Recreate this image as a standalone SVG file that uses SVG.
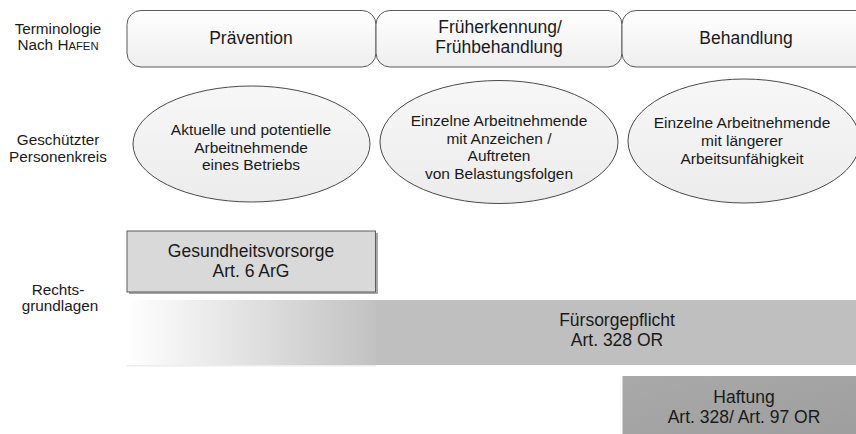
<svg xmlns="http://www.w3.org/2000/svg" width="856" height="434" viewBox="0 0 856 434">
<style>
text{font-family:"Liberation Sans",Arial,sans-serif;fill:#1a1a1a;text-anchor:middle}
.lbl{font-size:15.3px}
.big{font-size:17.5px}
.mid{font-size:15.5px}
.phase{fill:url(#gTop);stroke:#5a5a5a;stroke-width:1}
.ell{fill:url(#gEll);stroke:#4a4a4a;stroke-width:1}
</style>
<defs>
<linearGradient id="gTop" x1="0" y1="0" x2="0" y2="1">
<stop offset="0" stop-color="#ffffff"/>
<stop offset="1" stop-color="#eeeeee"/>
</linearGradient>
<linearGradient id="gEll" x1="0" y1="0" x2="0" y2="1">
<stop offset="0" stop-color="#f7f7f7"/>
<stop offset="1" stop-color="#ececec"/>
</linearGradient>
<linearGradient id="gFade" x1="0" y1="0" x2="1" y2="0">
<stop offset="0" stop-color="#ffffff"/>
<stop offset="1" stop-color="#c2c2c2"/>
</linearGradient>
<linearGradient id="gHaft" x1="0" y1="0" x2="1" y2="1">
<stop offset="0" stop-color="#a9a9a9"/>
<stop offset="1" stop-color="#9e9e9e"/>
</linearGradient>
</defs>
<g id="row-labels">
<text class="lbl" x="58" y="33.5">Terminologie</text>
<text class="lbl" x="58" y="50">Nach H<tspan font-size="11.3px">AFEN</tspan></text>
<text class="lbl" x="58" y="145">Geschützter</text>
<text class="lbl" x="58" y="161.5">Personenkreis</text>
<text class="lbl" x="58" y="294.5">Rechts-</text>
<text class="lbl" x="60" y="311">grundlagen</text>
</g>
<g id="praevention">
<rect class="phase" x="127" y="10.5" width="249" height="56.5" rx="14"/>
<text class="big" x="251" y="44">Prävention</text>
</g>
<g id="frueherkennung">
<rect class="phase" x="376" y="10.5" width="246" height="56.5" rx="14"/>
<text class="big" x="500" y="33">Früherkennung/</text>
<text class="big" x="499" y="53">Frühbehandlung</text>
</g>
<g id="behandlung">
<rect class="phase" x="622" y="10.5" width="250" height="56.5" rx="14"/>
<text class="big" x="746" y="44">Behandlung</text>
</g>
<g id="personen-praevention">
<ellipse class="ell" cx="251.5" cy="144" rx="118.5" ry="58"/>
<text class="mid" x="251" y="135">Aktuelle und potentielle</text>
<text class="mid" x="251" y="152.5">Arbeitnehmende</text>
<text class="mid" x="251" y="170">eines Betriebs</text>
</g>
<g id="personen-frueherkennung">
<ellipse class="ell" cx="499" cy="142" rx="119" ry="61.5"/>
<text class="mid" x="499" y="126">Einzelne Arbeitnehmende</text>
<text class="mid" x="499" y="144">mit Anzeichen /</text>
<text class="mid" x="499" y="161">Auftreten</text>
<text class="mid" x="499" y="179">von Belastungsfolgen</text>
</g>
<g id="personen-behandlung">
<ellipse class="ell" cx="744" cy="141" rx="116" ry="62"/>
<text class="mid" x="742" y="128">Einzelne Arbeitnehmende</text>
<text class="mid" x="742" y="146">mit längerer</text>
<text class="mid" x="742" y="163.5">Arbeitsunfähigkeit</text>
</g>
<g id="gesundheitsvorsorge">
<rect x="129" y="233" width="249" height="61" fill="#a8a8a8"/>
<rect x="127" y="231" width="248.5" height="61" fill="#d9d9d9" stroke="#5e5e5e" stroke-width="1"/>
<text class="big" x="251" y="257">Gesundheitsvorsorge</text>
<text class="big" x="251" y="277">Art. 6 ArG</text>
</g>
<g id="fuersorgepflicht">
<rect x="127" y="300" width="249" height="66" fill="url(#gFade)"/>
<rect x="127" y="365" width="249" height="1.5" fill="#ececec"/>
<rect x="376" y="300" width="480" height="65" fill="#bfbfbf"/>
<text class="big" x="617" y="326">Fürsorgepflicht</text>
<text class="big" x="617" y="346">Art. 328 OR</text>
</g>
<g id="haftung">
<rect x="622.5" y="376" width="240" height="60" fill="url(#gHaft)"/>
<text class="big" x="744" y="402.5">Haftung</text>
<text class="big" x="744" y="422.5">Art. 328/ Art. 97 OR</text>
</g>
</svg>
